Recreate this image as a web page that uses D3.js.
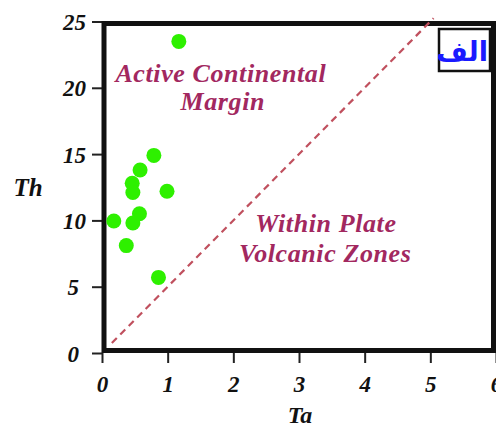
<!DOCTYPE html>
<html><head><meta charset="utf-8">
<script src="https://cdn.jsdelivr.net/npm/d3@7"></script>
<style>
html,body{margin:0;padding:0;background:#fff;}
svg{display:block;}
</style></head>
<body>
<svg id="chart" width="496" height="428"></svg>
<script>
// ---- data ----
const ta = [1.17, 0.79, 0.58, 0.46, 0.47, 0.99, 0.18, 0.57, 0.47, 0.37, 0.86];
const th = [23.5, 14.9, 13.8, 12.8, 12.1, 12.2, 9.95, 10.5, 9.8, 8.1, 5.7];
const xTicks = [0, 1, 2, 3, 4, 5, 6];
const yTicks = [0, 5, 10, 15, 20, 25];
const boundaryTa = [0.15, 5.05];
const boundarySlope = [5];
const fieldLabels = ["Active Continental", "Margin", "Within Plate", "Volcanic Zones"];
const fieldPos = [[1.81, 20.44], [1.84, 18.33], [3.41, 9.12], [3.40, 6.86]];
const panelLabel = ["الف"];

const svg = d3.select("#chart");
const x = d3.scaleLinear().domain([0, 6]).range([102, 496]);
const y = d3.scaleLinear().domain([0, 25]).range([353, 21.5]);
const serif = "'Liberation Serif','Times New Roman',serif";
const labelColor = "#a2285f";

// axes
const xa = svg.append("g").attr("transform", "translate(0,353)")
  .call(d3.axisBottom(x).tickValues(xTicks).tickSize(10).tickSizeOuter(0).tickFormat(d3.format("d")));
const ya = svg.append("g").attr("transform", "translate(102,0)")
  .call(d3.axisLeft(y).tickValues(yTicks).tickSize(10).tickSizeOuter(0).tickFormat(d3.format("d")));
[xa, ya].forEach(g => {
  g.select(".domain").remove();
  g.selectAll(".tick line").attr("stroke", "#222").attr("stroke-width", 2);
  g.selectAll(".tick text").attr("font-family", serif).attr("font-weight", "bold")
    .attr("font-style", "italic").attr("font-size", 23).attr("fill", "#111");
});
xa.selectAll(".tick text").attr("y", 23);
ya.selectAll(".tick text").attr("x", -16).attr("dy", "0.35em")
  .attr("dx", d => d < 10 ? -7 : 0);

// frame
svg.append("rect").attr("x", 104).attr("y", 23.5).attr("width", 389.5).attr("height", 327)
  .attr("fill", "none").attr("stroke", "#111").attr("stroke-width", 5);

// boundary line
svg.append("line")
  .attr("x1", x(boundaryTa[0])).attr("y1", y(boundaryTa[0] * boundarySlope[0]))
  .attr("x2", x(boundaryTa[1])).attr("y2", y(boundaryTa[1] * boundarySlope[0]))
  .attr("stroke", "#c0505e").attr("stroke-width", 2.2).attr("stroke-dasharray", "7,5");

// field labels
svg.selectAll("text.field").data(fieldLabels).join("text").attr("class", "field")
  .attr("x", (d, i) => x(fieldPos[i][0])).attr("y", (d, i) => y(fieldPos[i][1]))
  .attr("text-anchor", "middle").attr("font-family", serif).attr("font-weight", "bold")
  .attr("font-style", "italic").attr("font-size", 26).attr("letter-spacing", 0.6)
  .attr("fill", labelColor).text(d => d);

// points
svg.selectAll("circle.pt").data(ta).join("circle").attr("class", "pt")
  .attr("cx", d => x(d)).attr("cy", (d, i) => y(th[i])).attr("r", 7.5).attr("fill", "#2ef000");

// axis titles
svg.append("text").attr("x", 28).attr("y", 196).attr("text-anchor", "middle")
  .attr("font-family", serif).attr("font-weight", "bold").attr("font-style", "italic")
  .attr("font-size", 25).attr("fill", "#111").text("Th");
svg.append("text").attr("x", 300).attr("y", 423).attr("text-anchor", "middle")
  .attr("font-family", serif).attr("font-weight", "bold").attr("font-style", "italic")
  .attr("font-size", 24).attr("fill", "#111").text("Ta");

// panel label box
svg.append("rect").attr("x", 439).attr("y", 29).attr("width", 51).attr("height", 42)
  .attr("fill", "#fff").attr("stroke", "#111").attr("stroke-width", 2.5);
svg.append("text").attr("x", 488).attr("y", 61).attr("text-anchor", "end")
  .attr("font-family", "'DejaVu Sans','Noto Sans',sans-serif").attr("font-weight", "bold")
  .attr("font-size", 27).attr("fill", "#1a1aff").text(panelLabel[0]);
</script>
</body></html>
